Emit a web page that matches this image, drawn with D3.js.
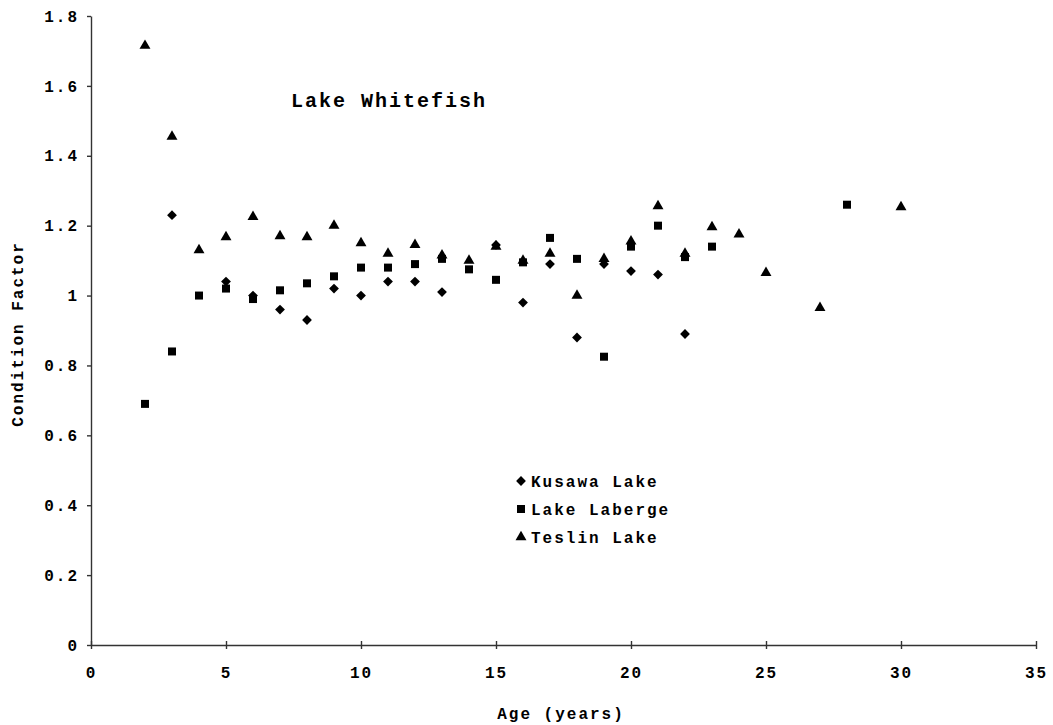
<!DOCTYPE html>
<html lang="en">

<head>
    <meta charset="UTF-8" />
    <title>Lake Whitefish</title>
    <script src="https://cdn.jsdelivr.net/npm/d3@7"></script>
    <style>
        body { margin: 0; background: #fff; }
        text { font-family: "Liberation Mono", "Courier New", monospace; font-weight: bold; fill: #000; }
    </style>
</head>

<body>
<script>
    // condition factor by age
    let kusawaAge = [3, 5, 6, 7, 8, 9, 10, 11, 12, 13, 15, 16, 17, 18, 19, 20, 21, 22];
    let kusawaK = [1.23, 1.04, 1.00, 0.96, 0.93, 1.02, 1.00, 1.04, 1.04, 1.01, 1.145, 0.98, 1.09, 0.88, 1.09, 1.07, 1.06, 0.89];

    let labergeAge = [2, 3, 4, 5, 6, 7, 8, 9, 10, 11, 12, 13, 14, 15, 16, 17, 18, 19, 20, 21, 22, 23, 28];
    let labergeK = [0.69, 0.84, 1.00, 1.02, 0.99, 1.015, 1.035, 1.055, 1.08, 1.08, 1.09, 1.105, 1.075, 1.045, 1.095, 1.165, 1.105, 0.825, 1.14, 1.20, 1.11, 1.14, 1.26];

    let teslinAge = [2, 3, 4, 5, 6, 7, 8, 9, 10, 11, 12, 13, 14, 15, 16, 17, 18, 19, 20, 21, 22, 23, 24, 25, 27, 30];
    let teslinK = [1.715, 1.455, 1.13, 1.167, 1.225, 1.17, 1.167, 1.20, 1.15, 1.12, 1.145, 1.115, 1.10, 1.14, 1.10, 1.12, 1.00, 1.105, 1.155, 1.256, 1.12, 1.196, 1.175, 1.065, 0.965, 1.253];

    let xTicks = [0, 5, 10, 15, 20, 25, 30, 35];
    let yTicks = [0, 0.2, 0.4, 0.6, 0.8, 1, 1.2, 1.4, 1.6, 1.8];

    let w = 1053, h = 725;
    let svg = d3.select("body").append("svg")
        .attr("width", w)
        .attr("height", h);

    let x = d3.scaleLinear().domain([0, 35]).range([91, 1036]);
    let y = d3.scaleLinear().domain([0, 1.8]).range([645, 16]);

    // axes
    let xAxis = svg.append("g").attr("transform", `translate(0,${y(0)})`)
        .call(d3.axisBottom(x).tickValues(xTicks).tickFormat(d3.format("d")).tickSize(4).tickSizeOuter(0));
    xAxis.selectAll(".tick line").attr("y1", -4).attr("y2", 4);
    xAxis.selectAll(".tick text").attr("y", 22).style("font-size", "16px").style("letter-spacing", "2px");

    let yAxis = svg.append("g").attr("transform", `translate(${x(0)},0)`)
        .call(d3.axisLeft(y).tickValues(yTicks).tickFormat(d => d3.format("~g")(d)).tickSize(4).tickSizeOuter(0));
    yAxis.selectAll(".tick text").attr("x", -12).style("font-size", "16px").style("letter-spacing", "2px");

    svg.selectAll(".domain, .tick line").attr("stroke", "#333").attr("stroke-width", 1.4);

    // points
    let diamond = d3.symbol().type(d3.symbolSquare).size(48)();
    let square = d3.symbol().type(d3.symbolSquare).size(64)();
    let tri = d3.symbol().type(d3.symbolTriangle).size(52)();

    function plot(ages, vals, path, rot) {
        svg.append("g").selectAll("path")
            .data(ages.map((a, i) => [a, vals[i]]))
            .join("path")
            .attr("d", path)
            .attr("fill", "#000")
            .attr("transform", d => `translate(${x(d[0])},${y(d[1])}) rotate(${rot})`);
    }
    plot(kusawaAge, kusawaK, diamond, 45);
    plot(labergeAge, labergeK, square, 0);
    plot(teslinAge, teslinK, tri, 0);

    // title
    svg.append("text").attr("x", 291).attr("y", 107)
        .style("font-size", "20px").style("letter-spacing", "2px")
        .text("Lake Whitefish");

    // legend
    let legend = [["Kusawa Lake", diamond, 45], ["Lake Laberge", square, 0], ["Teslin Lake", tri, 0]];
    legend.forEach((d, i) => {
        let ly = 481 + i * 28;
        svg.append("path").attr("d", d[1]).attr("fill", "#000")
            .attr("transform", `translate(521,${ly}) rotate(${d[2]})`);
        svg.append("text").attr("x", 531).attr("y", ly + 6)
            .style("font-size", "16px").style("letter-spacing", "2px")
            .text(d[0]);
    });

    // axis titles
    svg.append("text").attr("x", 561).attr("y", 719).attr("text-anchor", "middle")
        .style("font-size", "16px").style("letter-spacing", "2px")
        .text("Age (years)");
    svg.append("text").attr("transform", "translate(23,334) rotate(-90)").attr("text-anchor", "middle")
        .style("font-size", "16px").style("letter-spacing", "2px")
        .text("Condition Factor");
</script>
</body>

</html>
